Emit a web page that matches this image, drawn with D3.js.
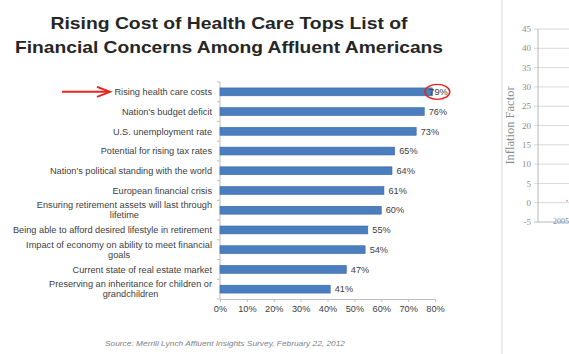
<!DOCTYPE html>
<html>
<head>
<meta charset="utf-8">
<script src="https://cdn.jsdelivr.net/npm/d3@7"></script>
<style>
  html, body { margin: 0; padding: 0; background: #fff; }
  svg { display: block; }
</style>
</head>
<body>
<svg id="chart" width="569" height="354"></svg>
<script>
// Survey concerns, top to bottom, with the share of respondents citing each
const categories = [
  "Rising health care costs",
  "Nation's budget deficit",
  "U.S. unemployment rate",
  "Potential for rising tax rates",
  "Nation's political standing with the world",
  "European financial crisis",
  "Ensuring retirement assets will last through|lifetime",
  "Being able to afford desired lifestyle in retirement",
  "Impact of economy on ability to meet financial|goals",
  "Current state of real estate market",
  "Preserving an inheritance for children or|grandchildren"
];
const values = [79, 76, 73, 65, 64, 61, 60, 55, 54, 47, 41];
const xTicks = [0, 10, 20, 30, 40, 50, 60, 70, 80];

const titleLines = [
  "Rising Cost of Health Care Tops List of",
  "Financial Concerns Among Affluent Americans"
];
const sourceText = "Source: Merrill Lynch Affluent Insights Survey, February 22, 2012";

// Neighbouring panel (inflation chart) axis ticks
const inflationTicks = [-5, 0, 5, 10, 15, 20, 25, 30, 35, 40, 45];
const inflationYears = ["2005"];

const svg = d3.select("#chart");
const sans = "'Liberation Sans', Arial, sans-serif";
const small = 9.2;

svg.append("rect").attr("width", 569).attr("height", 354).attr("fill", "#fff");

// Title
const titleWidths = [357, 428];
svg.append("g").selectAll("text").data(titleLines).join("text")
  .attr("x", 229)
  .attr("y", (d, i) => 29 + i * 24)
  .attr("text-anchor", "middle")
  .attr("font-family", sans)
  .attr("font-weight", "bold")
  .attr("font-size", 16.5)
  .attr("fill", "#262626")
  .attr("textLength", (d, i) => titleWidths[i])
  .attr("lengthAdjust", "spacingAndGlyphs")
  .text(d => d);

// Bar chart
const x = d3.scaleLinear().domain([0, 80]).range([220, 435]);
const y = d3.scaleBand().domain(categories).range([82, 299]).paddingInner(0.6).paddingOuter(0.3);

const axisColor = "#bfbfbf";
const textColor = "#404040";
const step = y.step();

// Category axis line and ticks between categories
svg.append("line")
  .attr("x1", x(0)).attr("x2", x(0))
  .attr("y1", 82).attr("y2", 299)
  .attr("stroke", axisColor).attr("stroke-width", 1);
const tickY = i => i === categories.length ? 299 : y(categories[i]) - (step - y.bandwidth()) / 2;
svg.append("g").selectAll("line").data(d3.range(categories.length + 1)).join("line")
  .attr("x1", x(0) - 3).attr("x2", x(0))
  .attr("y1", tickY).attr("y2", tickY)
  .attr("stroke", axisColor);

// Value axis
const xAxis = svg.append("g")
  .attr("transform", "translate(0,299)")
  .call(d3.axisBottom(x).tickValues(xTicks).tickFormat(d => d + "%").tickSize(3).tickPadding(3));
xAxis.select(".domain").attr("stroke", axisColor);
xAxis.selectAll(".tick line").attr("stroke", axisColor);
xAxis.selectAll(".tick text")
  .attr("font-family", sans).attr("font-size", small).attr("fill", textColor);

// Bars
svg.append("g").selectAll("rect").data(values).join("rect")
  .attr("x", x(0))
  .attr("y", (d, i) => y(categories[i]))
  .attr("width", d => x(d) - x(0))
  .attr("height", y.bandwidth())
  .attr("fill", "#4a7ebf")
  .attr("stroke", "#3c6aa6")
  .attr("stroke-width", 0.6);

// Value labels (the top one is pulled in over its bar end, inside the highlight ring)
svg.append("g").selectAll("text").data(values).join("text")
  .attr("x", (d, i) => i === 0 ? x(d) - 3 : x(d) + 4.5)
  .attr("y", (d, i) => y(categories[i]) + y.bandwidth() / 2)
  .attr("dy", "0.35em")
  .attr("font-family", sans).attr("font-size", small).attr("fill", textColor)
  .text(d => d + "%");

// Category labels (wrapped ones centered within their block)
const labelRight = 212;
const labelGroup = svg.append("g")
  .attr("font-family", sans).attr("font-size", small).attr("fill", textColor);
categories.forEach(cat => {
  const lines = cat.split("|");
  const cy = y(cat) + y.bandwidth() / 2;
  const t = labelGroup.append("text");
  lines.forEach((ln, j) => {
    t.append("tspan").attr("y", cy + (j - (lines.length - 1) / 2) * 10).attr("dy", "0.35em").text(ln);
  });
  if (lines.length === 1) {
    t.select("tspan").attr("x", labelRight).attr("text-anchor", "end");
  } else {
    const widths = [];
    t.selectAll("tspan").each(function () { widths.push(this.getComputedTextLength()); });
    const w = d3.max(widths);
    t.selectAll("tspan").attr("x", labelRight - w / 2).attr("text-anchor", "middle");
  }
});

// Highlight: arrow to the top concern and ring around its value
const red = "#e8231e";
const topCy = y(categories[0]) + y.bandwidth() / 2;
svg.append("line")
  .attr("x1", 62).attr("x2", 107)
  .attr("y1", topCy).attr("y2", topCy)
  .attr("stroke", red).attr("stroke-width", 2);
svg.append("path")
  .attr("d", `M${97},${topCy - 5} L${110},${topCy} L${97},${topCy + 5}`)
  .attr("fill", "none").attr("stroke", red).attr("stroke-width", 2)
  .attr("stroke-linejoin", "miter");
svg.append("ellipse")
  .attr("cx", x(values[0]) + 5).attr("cy", topCy)
  .attr("rx", 12.5).attr("ry", 7.5)
  .attr("fill", "none").attr("stroke", red).attr("stroke-width", 1.4);

// Source note
svg.append("text")
  .attr("x", 225).attr("y", 344).attr("dy", "0.35em")
  .attr("text-anchor", "middle")
  .attr("font-family", sans).attr("font-size", 6.6).attr("font-style", "italic")
  .attr("fill", "#7f7f7f")
  .attr("textLength", 240).attr("lengthAdjust", "spacingAndGlyphs")
  .text(sourceText);

// Neighbouring panel: inflation factor chart edge
svg.append("line")
  .attr("x1", 502).attr("x2", 502).attr("y1", 0).attr("y2", 354)
  .attr("stroke", "#d9d9d9").attr("stroke-width", 1);

const yInf = d3.scaleLinear().domain([-5, 45]).range([222, 29]);
const serif = "'Liberation Serif', 'DejaVu Serif', serif";
svg.append("g").selectAll("line").data(inflationTicks).join("line")
  .attr("x1", 534).attr("x2", 569)
  .attr("y1", d => yInf(d)).attr("y2", d => yInf(d))
  .attr("stroke", d => d === -5 ? "#a6a6a6" : "#d0d0d0").attr("stroke-width", 0.8);
svg.append("line")
  .attr("x1", 538).attr("x2", 538).attr("y1", yInf(45)).attr("y2", yInf(-5))
  .attr("stroke", "#a6a6a6").attr("stroke-width", 0.8);
svg.append("g").selectAll("text").data(inflationTicks).join("text")
  .attr("x", 531).attr("y", d => yInf(d)).attr("dy", "0.35em")
  .attr("text-anchor", "end")
  .attr("font-family", serif).attr("font-size", 9).attr("fill", "#8c8c8c")
  .text(d => d);
svg.append("text")
  .attr("transform", `translate(510,${(yInf(45) + yInf(-5)) / 2}) rotate(-90)`)
  .attr("text-anchor", "middle").attr("dy", "0.35em")
  .attr("font-family", serif).attr("font-size", 12.5).attr("fill", "#8c8c8c")
  .text("Inflation Factor");
svg.append("g").selectAll("text").data(inflationYears).join("text")
  .attr("x", 553).attr("y", yInf(-5) - 1).attr("dy", "0.35em")
  .attr("font-family", serif).attr("font-size", 8).attr("fill", "#8c8c8c")
  .text(d => d);
svg.append("circle")
  .attr("cx", 567).attr("cy", yInf(0) - 2).attr("r", 1)
  .attr("fill", "#f0a0a0");
</script>
</body>
</html>
